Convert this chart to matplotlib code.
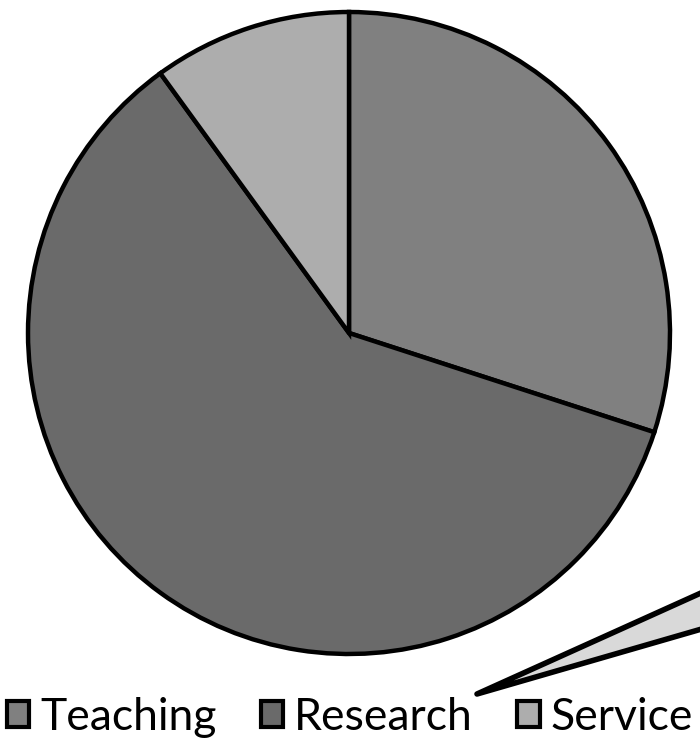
import matplotlib.pyplot as plt
from matplotlib.patches import Polygon

labels = ['Teaching', 'Research', 'Service']
shares = [30, 60, 10]
colors = ['#808080', '#6a6a6a', '#adadad']

fig = plt.figure(figsize=(7, 7.42), dpi=100)
ax = fig.add_axes([28 / 700, (742 - 654) / 742, 642 / 700, 642 / 742])
wedges, _ = ax.pie(shares, colors=colors, startangle=90, counterclock=False,
                   wedgeprops=dict(edgecolor='black', linewidth=3.2))
ax.set_xlim(-1, 1)
ax.set_ylim(-1, 1)
ax.set_aspect('equal')

# leftover callout sliver in the lower right
W, H = 700, 742
pts = [(477 / W, 1 - 694 / H), (712 / W, 1 - 588 / H), (712 / W, 1 - 626 / H)]
fig.patches.append(Polygon(pts, closed=True, transform=fig.transFigure,
                           facecolor='#d9d9d9', edgecolor='black', linewidth=4,
                           joinstyle='round'))

leg = fig.legend(wedges, labels, loc='lower center', bbox_to_anchor=(0.5, -0.048),
                 ncol=3, frameon=False, handlelength=0.5,
                 handleheight=0.5, handletextpad=0.25, columnspacing=1.0,
                 prop={'family': 'Lato', 'size': 32})
for h in leg.legend_handles:
    h.set_linewidth(3)

fig.savefig('out.png', dpi=100)
